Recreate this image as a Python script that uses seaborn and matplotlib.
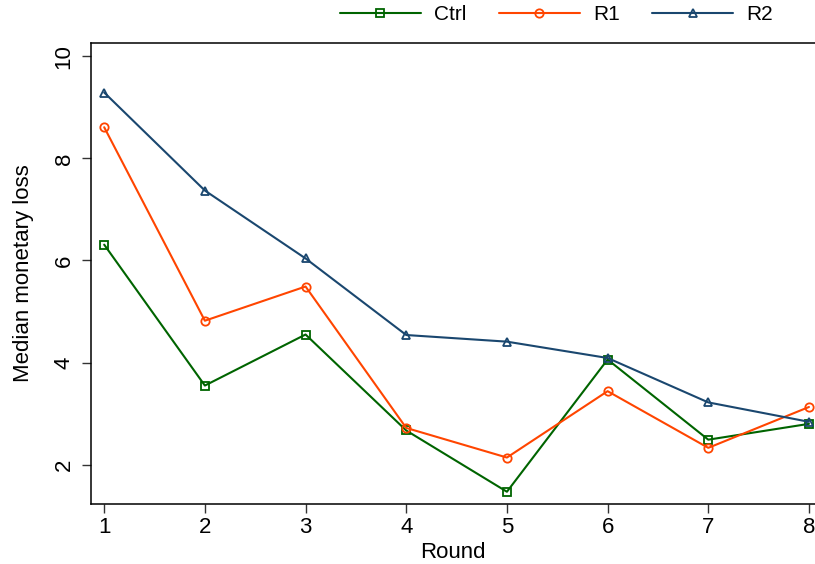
import numpy as np
import pandas as pd
import matplotlib
matplotlib.use("Agg")
import matplotlib.pyplot as plt
import seaborn as sns

rounds = [1, 2, 3, 4, 5, 6, 7, 8]
ctrl = [6.31, 3.55, 4.55, 2.67, 1.47, 4.06, 2.49, 2.80]
r1 = [8.61, 4.82, 5.49, 2.72, 2.14, 3.44, 2.33, 3.13]
r2 = [9.29, 7.37, 6.04, 4.54, 4.41, 4.09, 3.22, 2.84]
groups = ["Ctrl", "R1", "R2"]

palette = {"Ctrl": "#006400", "R1": "#FF4500", "R2": "#1A476F"}
markers = {"Ctrl": "s", "R1": "o", "R2": "^"}

# long-form table for seaborn
df = pd.DataFrame({
    "Round": rounds * 3,
    "loss": ctrl + r1 + r2,
    "group": [g for g in groups for _ in rounds],
})

sns.set_style("ticks")
plt.rcParams["font.family"] = ["Liberation Sans", "DejaVu Sans"]
plt.rcParams["text.color"] = "black"
plt.rcParams["axes.labelcolor"] = "black"
plt.rcParams["xtick.labelcolor"] = "black"
plt.rcParams["ytick.labelcolor"] = "black"

fig = plt.figure(figsize=(8.15, 5.64), dpi=100)
ax = fig.add_axes([90.7 / 815, 1 - 504 / 564, (815 - 90.7) / 815, 461 / 564])

sns.lineplot(data=df, x="Round", y="loss", hue="group", style="group",
             palette=palette, markers=markers, dashes=False, ax=ax,
             linewidth=1.5, markersize=6, markerfacecolor="none",
             markeredgewidth=1.3)
for line in ax.lines:
    line.set_markerfacecolor("none")
    line.set_markeredgecolor(line.get_color())

ax.set_xlim(0.866, 8.06)
ax.set_ylim(1.23, 10.26)
ax.set_xticks(rounds)
ax.set_yticks([2, 4, 6, 8, 10])
ax.tick_params(axis="both", labelsize=16, length=6.5, width=1, color="#333333")
ax.tick_params(axis="x", pad=3)
ax.tick_params(axis="y", pad=5)
for lbl in ax.get_yticklabels():
    lbl.set_rotation(90)
    lbl.set_va("center")
ax.set_xlabel("Round", fontsize=16, labelpad=3)
ax.set_ylabel("Median monetary loss", fontsize=16, labelpad=14)

for s in ["left", "bottom", "top"]:
    ax.spines[s].set_visible(True)
    ax.spines[s].set_linewidth(1.1)
    ax.spines[s].set_color("black")
ax.spines["right"].set_visible(False)

handles, labels = ax.get_legend_handles_labels()
for h in handles:
    h.set_markerfacecolor("none")
    h.set_markeredgecolor(h.get_color())
    h.set_markersize(6)
ax.legend(handles, labels, loc="center", bbox_to_anchor=(556.5 / 815, 1 - 15 / 564),
          bbox_transform=fig.transFigure, ncol=3, frameon=False, fontsize=15,
          handlelength=3.9, columnspacing=1.55, handletextpad=0.63)

fig.savefig("out.png", dpi=100)
